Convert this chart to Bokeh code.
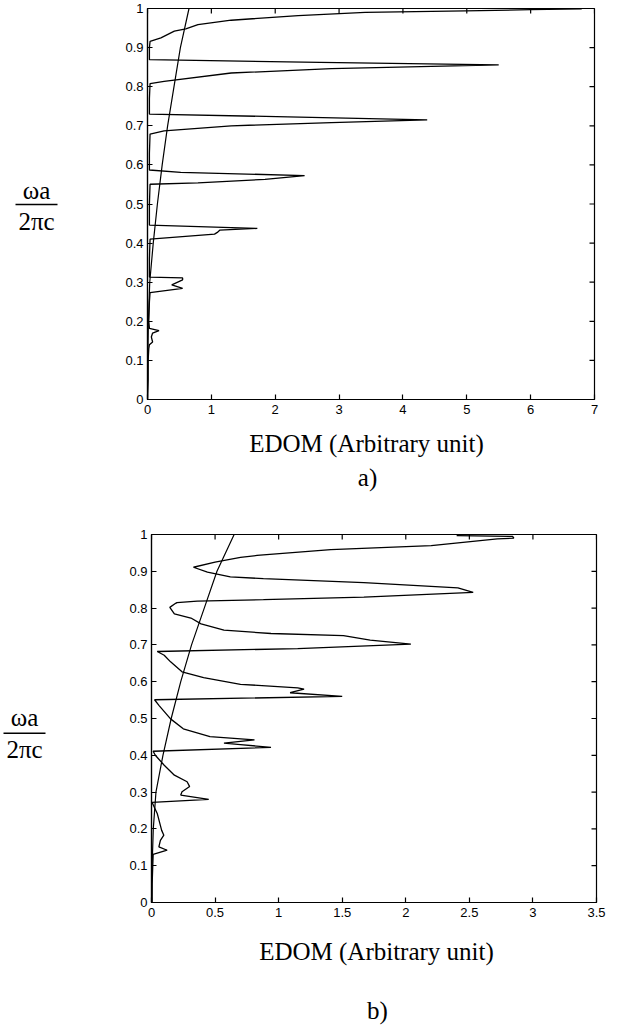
from bokeh.plotting import figure
from bokeh.models import Range1d, FixedTicker
from bokeh.layouts import column, row
from bokeh.core.properties import value
from bokeh.embed import file_html
from bokeh.resources import INLINE

# ---------------- data ----------------
# panel a): normalized frequency (wa/2pic) vs EDOM
a_freq = [0.0, 0.05, 0.10, 0.13, 0.14, 0.147, 0.16, 0.17, 0.176, 0.182, 0.20, 0.25,
          0.2735, 0.284, 0.293, 0.306, 0.311, 0.313, 0.36, 0.410, 0.423, 0.428, 0.433,
          0.4376, 0.446, 0.50, 0.5505, 0.554, 0.563, 0.5726, 0.581, 0.587, 0.63, 0.679,
          0.687, 0.700, 0.708, 0.7154, 0.7227, 0.730, 0.77, 0.808, 0.8137, 0.835, 0.846,
          0.856, 0.862, 0.869, 0.90, 0.916, 0.925, 0.942, 0.948, 0.959, 0.970, 0.982,
          0.990, 0.994, 0.997, 0.999]
a_edom = [0.0, 0.01, 0.01, 0.02, 0.03, 0.08, 0.06, 0.08, 0.18, 0.03, 0.02, 0.03,
          0.04, 0.55, 0.38, 0.55, 0.55, 0.03, 0.03, 0.04, 1.05, 1.10, 1.13,
          1.72, 0.03, 0.03, 0.04, 0.79, 1.84, 2.46, 0.52, 0.03, 0.03, 0.04,
          0.26, 1.31, 2.88, 4.38, 2.20, 0.03, 0.03, 0.04, 0.26, 1.31, 2.88,
          5.50, 2.70, 0.03, 0.03, 0.04, 0.21, 0.42, 0.60, 0.79, 1.31, 2.36,
          3.41, 4.98, 6.00, 6.80]

# panel b)
b_freq = [0.0, 0.05, 0.10, 0.131, 0.142, 0.151, 0.169, 0.183, 0.196, 0.242, 0.272,
          0.280, 0.292, 0.301, 0.315, 0.328, 0.346, 0.373, 0.400, 0.411, 0.4216,
          0.429, 0.433, 0.442, 0.451, 0.472, 0.499, 0.535, 0.551, 0.560, 0.570,
          0.580, 0.583, 0.593, 0.611, 0.627, 0.654, 0.672, 0.682, 0.690, 0.702,
          0.713, 0.725, 0.731, 0.740, 0.757, 0.773, 0.784, 0.802, 0.813, 0.815,
          0.819, 0.823, 0.830, 0.843, 0.855, 0.869, 0.880, 0.885, 0.898, 0.911,
          0.925, 0.938, 0.943, 0.959, 0.970, 0.988, 0.990, 0.995, 0.997]
b_edom = [0.005, 0.005, 0.01, 0.013, 0.123, 0.058, 0.07, 0.097, 0.08, 0.045, 0.005,
          0.45, 0.23, 0.24, 0.30, 0.28, 0.18, 0.10, 0.03, 0.013, 0.94,
          0.70, 0.57, 0.81, 0.46, 0.25, 0.15, 0.06, 0.024, 1.50, 1.09,
          1.20, 1.15, 0.70, 0.41, 0.24, 0.15, 0.10, 0.045, 1.15, 2.04,
          1.72, 1.51, 0.94, 0.57, 0.39, 0.31, 0.18, 0.144, 0.19, 0.20,
          0.36, 0.88, 1.67, 2.53, 2.41, 1.67, 0.88, 0.62, 0.44, 0.33,
          0.50, 0.70, 0.83, 1.41, 2.20, 2.72, 2.85, 2.84, 2.40]

# free-space (light line) reference curve, same in both panels
light_freq = [0.0, 0.1, 0.2, 0.3, 0.4, 0.5, 0.6, 0.7, 0.8, 0.9, 1.0]
light_edom = [0.0, 0.005, 0.014, 0.035, 0.09, 0.155, 0.23, 0.315, 0.415, 0.515, 0.65]

# ticks
y_ticks = [0, 0.1, 0.2, 0.3, 0.4, 0.5, 0.6, 0.7, 0.8, 0.9, 1.0]
y_tick_labels = ["0", "0.1", "0.2", "0.3", "0.4", "0.5", "0.6", "0.7", "0.8", "0.9", "1"]
a_x_ticks = [0, 1, 2, 3, 4, 5, 6, 7]
a_x_tick_labels = ["0", "1", "2", "3", "4", "5", "6", "7"]
b_x_ticks = [0, 0.5, 1, 1.5, 2, 2.5, 3, 3.5]
b_x_tick_labels = ["0", "0.5", "1", "1.5", "2", "2.5", "3", "3.5"]

x_label = "EDOM (Arbitrary unit)"
y_label_num = "ωa"
y_label_den = "2πc"
panel_tags = ["a)", "b)"]

SERIF = "Liberation Serif"
SANS = "Liberation Sans"
TICK_PX = 5


def style_axis(ax, ticks, labels):
    ax.ticker = FixedTicker(ticks=ticks)
    ax.major_label_overrides = {t: l for t, l in zip(ticks, labels)}
    ax.major_tick_in = TICK_PX
    ax.major_tick_out = 0
    ax.minor_tick_line_color = None
    ax.axis_line_color = "black"
    ax.axis_line_width = 1.2
    ax.major_tick_line_color = "black"
    ax.major_tick_line_width = 1.2
    ax.major_label_text_font = SANS
    ax.major_label_text_font_size = "13px"
    ax.major_label_text_color = "black"


def make_panel(xmax, x_ticks, x_tick_labels, freq, edom, width, height,
               b_left, b_right, b_top, b_bottom):
    p = figure(width=width, height=height, output_backend="svg", toolbar_location=None,
               x_range=Range1d(0, xmax), y_range=Range1d(0, 1),
               min_border_left=b_left, min_border_right=b_right,
               min_border_top=b_top, min_border_bottom=b_bottom)
    p.grid.visible = False
    p.outline_line_color = "black"
    p.outline_line_width = 1.2

    style_axis(p.xaxis[0], x_ticks, x_tick_labels)
    style_axis(p.yaxis[0], y_ticks, y_tick_labels)
    p.xaxis[0].major_label_standoff = 5
    p.yaxis[0].major_label_standoff = 4

    # inward ticks on the top and right sides of the box
    frame_w = width - b_left - b_right
    frame_h = height - b_top - b_bottom
    dy = TICK_PX / frame_h
    dx = TICK_PX * xmax / frame_w
    p.segment(x0=x_ticks, y0=[1.0] * len(x_ticks), x1=x_ticks, y1=[1.0 - dy] * len(x_ticks),
              line_color="black", line_width=1.2)
    p.segment(x0=[xmax] * len(y_ticks), y0=y_ticks, x1=[xmax - dx] * len(y_ticks), y1=y_ticks,
              line_color="black", line_width=1.2)

    p.line(light_edom, light_freq, line_color="black", line_width=1.2)
    p.line(edom, freq, line_color="black", line_width=1.3)
    return p


def text_panel(width, height, texts, bars):
    f = figure(width=width, height=height, output_backend="svg", toolbar_location=None,
               x_range=Range1d(0, width), y_range=Range1d(height, 0),
               x_axis_type=None, y_axis_type=None, min_border=0)
    f.outline_line_color = None
    for (x, y, t) in texts:
        f.text(x=[x], y=[y], text=[t], text_font=value(SERIF), text_font_size=value("25px"),
               text_align="center", text_baseline="middle", text_color="black")
    for (x0, x1, y) in bars:
        f.segment(x0=[x0], y0=[y], x1=[x1], y1=[y], line_color="black", line_width=1.5)
    return f


# ---- panel a) ----
pa = make_panel(7, a_x_ticks, a_x_tick_labels, a_freq, a_edom, 521, 429, 47, 27, 8, 30)
la = text_panel(100, 429, [(36, 200, y_label_num), (36, 234, y_label_den)], [(15, 57, 215)])
ba = text_panel(621, 81, [(366, 14, x_label), (367, 48, panel_tags[0])], [])

# ---- panel b) ----
pb = make_panel(3.5, b_x_ticks, b_x_tick_labels, b_freq, b_edom, 521, 422, 51, 25, 24, 30)
lb = text_panel(100, 422, [(24, 210, y_label_num), (24, 247, y_label_den)], [(3, 45, 228)])
bb = text_panel(621, 94, [(376, 19, x_label), (377, 78, panel_tags[1])], [])

layout = column(row(la, pa), ba, row(lb, pb), bb)
open("out.html", "w").write(file_html(layout, INLINE))
